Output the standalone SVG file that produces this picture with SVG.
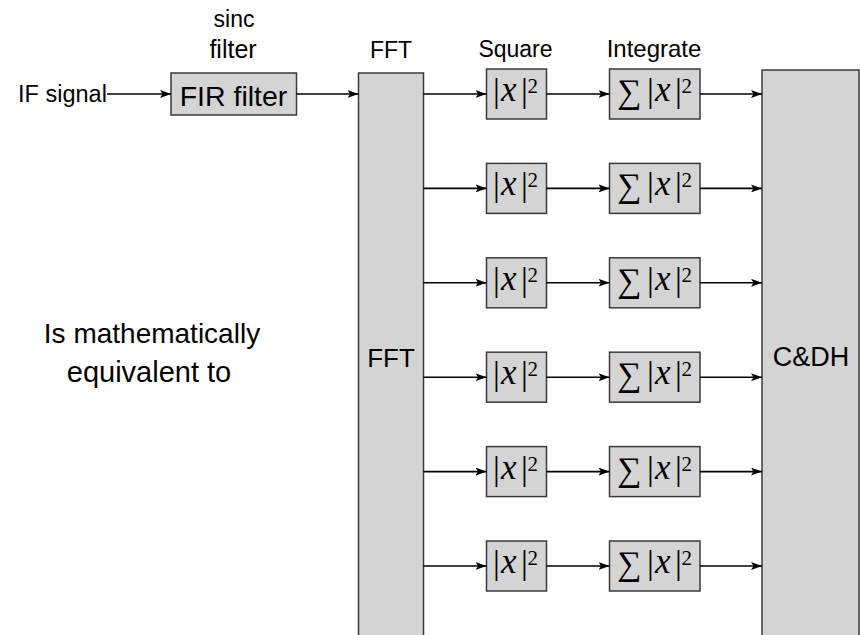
<svg xmlns="http://www.w3.org/2000/svg" width="860" height="635" viewBox="0 0 860 635">
<defs>
<style>
.box{fill:#d4d4d4;stroke:#3a3a3a;stroke-width:1.5}
.lbl{font-family:"Liberation Sans",Arial,sans-serif;fill:#000;text-anchor:middle}
.bar{font-family:"Liberation Serif","Times New Roman",serif;fill:#000;font-size:34px}
.x{font-family:"Liberation Serif","Times New Roman",serif;font-style:italic;fill:#000;font-size:35px}
.sup{font-family:"Liberation Serif","Times New Roman",serif;fill:#000;font-size:21px}
.sum{font-family:"Liberation Serif","DejaVu Serif",serif;fill:#000;font-size:34px}
.w{stroke:#000;stroke-width:1.6;fill:none;marker-end:url(#ah)}
</style>
<marker id="ah" viewBox="0 0 11 8" refX="11" refY="4" markerWidth="11" markerHeight="8" markerUnits="userSpaceOnUse" orient="auto">
<path d="M0,0 L11,4 L0,8 L2.5,4 z" fill="#000"/>
</marker>
<g id="sq">
<rect class="box" x="486.5" y="-25" width="60" height="50"/>
<text class="bar" x="493" y="8">|</text>
<text class="x" x="501" y="7">x</text>
<text class="bar" x="521" y="8">|</text>
<text class="sup" x="527.5" y="-1">2</text>
</g>
<g id="in">
<rect class="box" x="609.5" y="-25" width="90.5" height="50"/>
<text class="sum" x="617" y="9">∑</text>
<text class="bar" x="647" y="8">|</text>
<text class="x" x="655" y="7">x</text>
<text class="bar" x="675" y="8">|</text>
<text class="sup" x="681.5" y="-1">2</text>
</g>
</defs>

<g id="labels">
<text class="lbl" x="234" y="27" font-size="23">sinc</text>
<text class="lbl" x="233" y="58" font-size="25">filter</text>
<text class="lbl" x="391" y="58" font-size="23">FFT</text>
<text class="lbl" x="515.5" y="57" font-size="23">Square</text>
<text class="lbl" x="654" y="57" font-size="24">Integrate</text>
<text class="lbl" x="152" y="343" font-size="28">Is mathematically</text>
<text class="lbl" x="149" y="382" font-size="29">equivalent to</text>
</g>

<g id="if-signal">
<text class="lbl" x="62.5" y="102" font-size="23.5">IF signal</text>
</g>

<g id="fir">
<rect class="box" x="171" y="73" width="125.5" height="42"/>
<text class="lbl" x="233.5" y="106" font-size="28.5">FIR filter</text>
</g>

<g id="fft">
<rect class="box" x="358.5" y="73" width="65" height="570"/>
<text class="lbl" x="391" y="367" font-size="26">FFT</text>
</g>

<g id="cdh">
<rect class="box" x="762" y="70" width="97" height="575"/>
<text class="lbl" x="811" y="366" font-size="27">C&amp;DH</text>
</g>

<g id="row1"><use href="#sq" y="94"/><use href="#in" y="94"/></g>
<g id="row2"><use href="#sq" y="188.4"/><use href="#in" y="188.4"/></g>
<g id="row3"><use href="#sq" y="282.8"/><use href="#in" y="282.8"/></g>
<g id="row4"><use href="#sq" y="377.2"/><use href="#in" y="377.2"/></g>
<g id="row5"><use href="#sq" y="471.6"/><use href="#in" y="471.6"/></g>
<g id="row6"><use href="#sq" y="566"/><use href="#in" y="566"/></g>

<g id="connectors">
<line class="w" x1="107" y1="94" x2="171" y2="94"/>
<line class="w" x1="296.5" y1="94" x2="358.5" y2="94"/>
<line class="w" x1="423.5" y1="94" x2="486.5" y2="94"/>
<line class="w" x1="546.5" y1="94" x2="609.5" y2="94"/>
<line class="w" x1="700" y1="94" x2="762" y2="94"/>
<line class="w" x1="423.5" y1="188.4" x2="486.5" y2="188.4"/>
<line class="w" x1="546.5" y1="188.4" x2="609.5" y2="188.4"/>
<line class="w" x1="700" y1="188.4" x2="762" y2="188.4"/>
<line class="w" x1="423.5" y1="282.8" x2="486.5" y2="282.8"/>
<line class="w" x1="546.5" y1="282.8" x2="609.5" y2="282.8"/>
<line class="w" x1="700" y1="282.8" x2="762" y2="282.8"/>
<line class="w" x1="423.5" y1="377.2" x2="486.5" y2="377.2"/>
<line class="w" x1="546.5" y1="377.2" x2="609.5" y2="377.2"/>
<line class="w" x1="700" y1="377.2" x2="762" y2="377.2"/>
<line class="w" x1="423.5" y1="471.6" x2="486.5" y2="471.6"/>
<line class="w" x1="546.5" y1="471.6" x2="609.5" y2="471.6"/>
<line class="w" x1="700" y1="471.6" x2="762" y2="471.6"/>
<line class="w" x1="423.5" y1="566" x2="486.5" y2="566"/>
<line class="w" x1="546.5" y1="566" x2="609.5" y2="566"/>
<line class="w" x1="700" y1="566" x2="762" y2="566"/>
</g>
</svg>
